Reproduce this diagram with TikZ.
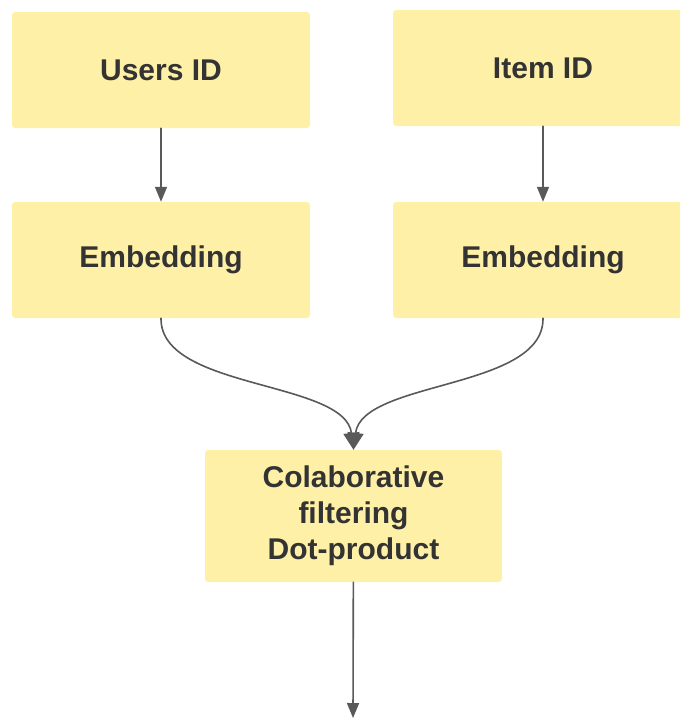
\documentclass[tikz,border=0pt]{standalone}
\usepackage{fontspec}
\setmainfont{Liberation Sans}
\usetikzlibrary{arrows.meta,positioning}

\definecolor{boxfill}{RGB}{255,240,168}
\definecolor{linegray}{RGB}{89,89,89}

\begin{document}
\begin{tikzpicture}[x=1pt, y=-1pt, >={Triangle[width=12pt,length=15pt]}, line cap=round,
    box/.style={fill=boxfill, rounded corners=3pt, minimum width=298pt, minimum height=116pt,
                font=\fontsize{30}{36}\selectfont\bfseries, text=black!80, align=center},
    link/.style={->, draw=linegray, line width=1.6pt}]
  \clip (0,0) rectangle (680,720);
  \useasboundingbox (0,0) rectangle (680,720);

  % inputs
  \node[box] (users) at (161,70) {Users ID};
  \node[box, minimum width=300pt] (item) at (543,68) {Item ID};

  % embeddings
  \node[box] (embU) at (161,260) {Embedding};
  \node[box, minimum width=300pt] (embI) at (543,260) {Embedding};

  % dot product
  \node[box, minimum width=297pt, minimum height=132pt] (dot) at (353.5,516) {Colaborative\\filtering\\Dot-product};
  \coordinate (out) at (353,718);

  \draw[link] (users) -- (embU);
  \draw[link] (item.south) -- (item.south |- embI.north);
  \draw[link, >={Triangle[width=16pt,length=17pt]}] (embU.south) .. controls (160,390) and (345,380) .. (dot.north);
  \draw[link, >={Triangle[width=16pt,length=17pt]}] (embI.south) .. controls (544,390) and (362,380) .. (dot.north);
  \draw[link] (dot) -- (out);
\end{tikzpicture}
\end{document}
